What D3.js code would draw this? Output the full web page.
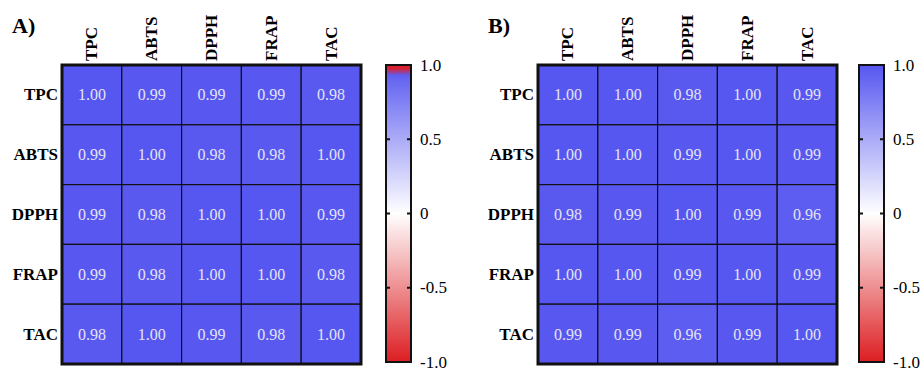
<!DOCTYPE html>
<html>
<head>
<meta charset="utf-8">
<script src="https://cdn.jsdelivr.net/npm/d3@7"></script>
<style>
  body { margin: 0; background: #fff; }
  svg { display: block; }
  text { font-family: "Liberation Serif", "Times New Roman", serif; }
</style>
</head>
<body>
<svg width="921" height="369"></svg>
<script>
// variables
var vars = ["TPC", "ABTS", "DPPH", "FRAP", "TAC"];

// correlation matrices, row by row
var corrA = [
    [1.00, 0.99, 0.99, 0.99, 0.98],
    [0.99, 1.00, 0.98, 0.98, 1.00],
    [0.99, 0.98, 1.00, 1.00, 0.99],
    [0.99, 0.98, 1.00, 1.00, 0.98],
    [0.98, 1.00, 0.99, 0.98, 1.00]
];
var corrB = [
    [1.00, 1.00, 0.98, 1.00, 0.99],
    [1.00, 1.00, 0.99, 1.00, 0.99],
    [0.98, 0.99, 1.00, 0.99, 0.96],
    [1.00, 1.00, 0.99, 1.00, 0.99],
    [0.99, 0.99, 0.96, 0.99, 1.00]
];

var legendTicks = [1, 0.5, 0, -0.5, -1];
var legendLabels = ["1.0", "0.5", "0", "-0.5", "-1.0"];

var svg = d3.select('svg');

var colScale = d3.scaleLinear().domain([-1, 0, 1]).range(['#dc1e22', '#ffffff', '#5656f0']);

function heatmap(id, title, corr, x0, legX, redTop) {
    var w = 299, h = 299, top = 65;
    var g = svg.append('g')
        .attr('id', id)
        .attr('transform', 'translate(' + x0 + ',' + top + ')');

    var xs = d3.scaleBand().domain(d3.range(vars.length)).range([0, w]);
    var ys = d3.scaleBand().domain(d3.range(vars.length)).range([0, h]);

    svg.append('text')
        .text(title)
        .attr('x', x0 - 50)
        .attr('y', 33)
        .attr('font-size', '22px')
        .attr('font-weight', 'bold');

    var cells = [];
    for (var i = 0; i < corr.length; i++) {
        for (var j = 0; j < corr[i].length; j++) {
            cells.push({row: i, col: j, value: corr[i][j]});
        }
    }

    g.selectAll('rect.cell')
        .data(cells)
        .enter().append('rect')
        .attr('class', 'cell')
        .attr('x', function(d) { return xs(d.col); })
        .attr('y', function(d) { return ys(d.row); })
        .attr('width', xs.bandwidth())
        .attr('height', ys.bandwidth())
        .attr('fill', function(d) { return colScale(d.value); })
        .attr('stroke', '#111')
        .attr('stroke-width', 1.2);

    g.selectAll('text.val')
        .data(cells)
        .enter().append('text')
        .attr('class', 'val')
        .attr('x', function(d) { return xs(d.col) + xs.bandwidth() / 2; })
        .attr('y', function(d) { return ys(d.row) + ys.bandwidth() / 2; })
        .attr('text-anchor', 'middle')
        .attr('dominant-baseline', 'central')
        .attr('font-size', '16px')
        .attr('fill', '#e4e4f4')
        .text(function(d) { return d3.format('.2f')(d.value); });

    g.append('rect')
        .attr('x', 0).attr('y', 0)
        .attr('width', w).attr('height', h)
        .attr('fill', 'none')
        .attr('stroke', '#111')
        .attr('stroke-width', 3);

    // column labels
    g.selectAll('text.collab')
        .data(vars)
        .enter().append('text')
        .attr('class', 'collab')
        .attr('transform', function(d, i) {
            return 'translate(' + (xs(i) + xs.bandwidth() / 2) + ',-4)rotate(-90)';
        })
        .attr('dominant-baseline', 'central')
        .attr('font-size', '17px')
        .attr('font-weight', 'bold')
        .text(function(d) { return d; });

    // row labels
    g.selectAll('text.rowlab')
        .data(vars)
        .enter().append('text')
        .attr('class', 'rowlab')
        .attr('x', -4)
        .attr('y', function(d, i) { return ys(i) + ys.bandwidth() / 2; })
        .attr('text-anchor', 'end')
        .attr('dominant-baseline', 'central')
        .attr('font-size', '17px')
        .attr('font-weight', 'bold')
        .text(function(d) { return d; });

    // colour bar
    var lw = 25;
    var ly = d3.scaleLinear().domain([1, -1]).range([top, top + h - 2]);
    var gradId = 'grad' + id;
    var grad = svg.append('defs').append('linearGradient')
        .attr('id', gradId)
        .attr('x1', 0).attr('y1', 0).attr('x2', 0).attr('y2', 1);
    var stops = [];
    if (redTop) {
        stops.push({o: 0, c: '#d82030'});
        stops.push({o: 0.012, c: '#d82030'});
        stops.push({o: 0.035, c: colScale(0.95)});
    }
    d3.range(1, -1.001, -0.1).forEach(function(v) {
        var o = (1 - v) / 2;
        if (!redTop || o > 0.035) stops.push({o: o, c: colScale(v)});
    });
    grad.selectAll('stop')
        .data(stops)
        .enter().append('stop')
        .attr('offset', function(d) { return d.o; })
        .attr('stop-color', function(d) { return d.c; });

    svg.append('rect')
        .attr('x', legX).attr('y', ly(1))
        .attr('width', lw).attr('height', ly(-1) - ly(1))
        .attr('fill', 'url(#' + gradId + ')')
        .attr('stroke', '#111')
        .attr('stroke-width', 2);

    var lt = svg.append('g').selectAll('g')
        .data(legendTicks)
        .enter().append('g');
    lt.filter(function(d) { return Math.abs(d) < 1; }).append('line')
        .attr('x1', legX).attr('x2', legX + 4)
        .attr('y1', function(d) { return ly(d); }).attr('y2', function(d) { return ly(d); })
        .attr('stroke', '#111').attr('stroke-width', 2);
    lt.filter(function(d) { return Math.abs(d) < 1; }).append('line')
        .attr('x1', legX + lw - 4).attr('x2', legX + lw)
        .attr('y1', function(d) { return ly(d); }).attr('y2', function(d) { return ly(d); })
        .attr('stroke', '#111').attr('stroke-width', 2);
    lt.append('text')
        .attr('x', legX + lw + 9)
        .attr('y', function(d) { return ly(d); })
        .attr('dominant-baseline', 'central')
        .attr('font-size', '17px')
        .text(function(d, i) { return legendLabels[i]; });
}

heatmap('A', 'A)', corrA, 62, 386, true);
heatmap('B', 'B)', corrB, 538, 859, false);
</script>
</body>
</html>
